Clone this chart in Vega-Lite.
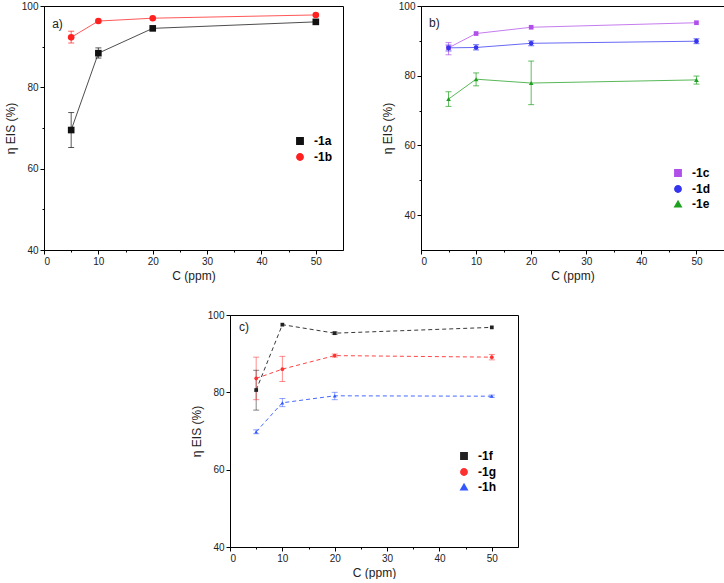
{
  "$schema": "https://vega.github.io/schema/vega-lite/v6.json",
  "background": "white",
  "padding": {"left": 3, "top": 0, "right": 0, "bottom": 0},
  "config": {
    "view": {"stroke": "black", "strokeWidth": 1},
    "font": "Liberation Sans",
    "axis": {"domainColor": "black", "tickColor": "black", "labelFont": "Liberation Sans", "titleFont": "Liberation Sans", "labelFontSize": 10, "titleFontSize": 12, "titleFontWeight": "normal", "grid": false, "labelColor": "#222", "titleColor": "#222", "labelPadding": 2, "titlePadding": 4, "labelOverlap": false},
    "legend": {"labelFont": "Liberation Sans", "labelFontSize": 12, "labelFontWeight": "bold", "labelColor": "black", "rowPadding": 2, "labelOffset": 8, "symbolSize": 40, "symbolOpacity": 1, "padding": 0}
  },
  "datasets": {
    "a": [
      {"series": "-1a", "x": 5, "y": 69.5, "lo": 65.2, "hi": 73.8},
      {"series": "-1a", "x": 10, "y": 88.4, "lo": 87.2, "hi": 89.7},
      {"series": "-1a", "x": 20, "y": 94.5},
      {"series": "-1a", "x": 50, "y": 96.1},
      {"series": "-1b", "x": 5, "y": 92.3, "lo": 90.9, "hi": 93.8},
      {"series": "-1b", "x": 10, "y": 96.3},
      {"series": "-1b", "x": 20, "y": 97.0},
      {"series": "-1b", "x": 50, "y": 97.8}
    ],
    "b": [
      {"series": "-1c", "x": 5, "y": 88.0, "lo": 86.0, "hi": 89.5},
      {"series": "-1c", "x": 10, "y": 92.1},
      {"series": "-1c", "x": 20, "y": 93.9},
      {"series": "-1c", "x": 50, "y": 95.2},
      {"series": "-1d", "x": 5, "y": 88.0, "lo": 87.1, "hi": 88.8},
      {"series": "-1d", "x": 10, "y": 88.1, "lo": 87.4, "hi": 88.9},
      {"series": "-1d", "x": 20, "y": 89.3, "lo": 88.6, "hi": 90.0},
      {"series": "-1d", "x": 50, "y": 89.9, "lo": 89.2, "hi": 90.6},
      {"series": "-1e", "x": 5, "y": 73.3, "lo": 71.2, "hi": 75.4},
      {"series": "-1e", "x": 10, "y": 79.0, "lo": 77.1, "hi": 80.8},
      {"series": "-1e", "x": 20, "y": 77.9, "lo": 71.7, "hi": 84.2},
      {"series": "-1e", "x": 50, "y": 78.8, "lo": 77.6, "hi": 79.9}
    ],
    "c": [
      {"series": "-1f", "x": 5, "y": 80.6, "lo": 75.4, "hi": 85.7},
      {"series": "-1f", "x": 10, "y": 97.5},
      {"series": "-1f", "x": 20, "y": 95.3, "lo": 95.0, "hi": 95.6},
      {"series": "-1f", "x": 50, "y": 96.8},
      {"series": "-1g", "x": 5, "y": 83.6, "lo": 78.1, "hi": 89.1},
      {"series": "-1g", "x": 10, "y": 86.0, "lo": 82.8, "hi": 89.3},
      {"series": "-1g", "x": 20, "y": 89.5, "lo": 89.1, "hi": 89.9},
      {"series": "-1g", "x": 50, "y": 89.1, "lo": 88.4, "hi": 89.8},
      {"series": "-1h", "x": 5, "y": 69.8, "lo": 69.3, "hi": 70.3},
      {"series": "-1h", "x": 10, "y": 77.3, "lo": 76.3, "hi": 78.4},
      {"series": "-1h", "x": 20, "y": 79.1, "lo": 78.1, "hi": 80.0},
      {"series": "-1h", "x": 50, "y": 79.0, "lo": 78.7, "hi": 79.3}
    ],
    "blank": []
  },
  "spacing": 27,
  "resolve": {"scale": {"color": "independent", "shape": "independent", "x": "independent", "y": "independent"}, "legend": {"color": "independent", "shape": "independent"}, "axis": {"x": "independent", "y": "independent"}},
  "vconcat": [
    {
      "spacing": 36,
      "resolve": {"scale": {"color": "independent", "shape": "independent", "x": "independent", "y": "independent"}, "legend": {"color": "independent", "shape": "independent"}, "axis": {"x": "independent", "y": "independent"}},
      "hconcat": [
        {
          "width": 299, "height": 244,
          "data": {"name": "a"},
          "encoding": {
            "x": {"field": "x", "type": "quantitative", "scale": {"domain": [0, 55], "nice": false}, "title": "C (ppm)",
              "axis": {"values": [0, 5, 10, 15, 20, 25, 30, 35, 40, 45, 50], "labelOverlap": false, "labelExpr": "datum.value % 10 === 0 ? datum.label : ''", "tickSize": {"condition": {"test": "datum.value % 10 === 0", "value": 4}, "value": 2}}},
            "color": {"field": "series", "type": "nominal", "scale": {"domain": ["-1a", "-1b"], "range": ["#111111", "#ff2020"]},
              "legend": {"orient": "none", "legendX": 250, "legendY": 129, "title": null}}
          },
          "layer": [
            {"transform": [{"filter": "isValid(datum.lo)"}], "mark": {"type": "rule", "strokeWidth": 1, "opacity": 0.7},
             "encoding": {"y": {"field": "lo", "type": "quantitative", "scale": {"domain": [40, 100], "nice": false, "zero": false}}, "y2": {"field": "hi"}}},
            {"transform": [{"filter": "isValid(datum.lo)"}], "mark": {"type": "tick", "orient": "horizontal", "size": 6, "thickness": 1, "opacity": 0.7},
             "encoding": {"y": {"field": "lo", "type": "quantitative", "scale": {"domain": [40, 100], "nice": false, "zero": false}}}},
            {"transform": [{"filter": "isValid(datum.lo)"}], "mark": {"type": "tick", "orient": "horizontal", "size": 6, "thickness": 1, "opacity": 0.7},
             "encoding": {"y": {"field": "hi", "type": "quantitative", "scale": {"domain": [40, 100], "nice": false, "zero": false}}}},
            {"mark": {"type": "line", "strokeWidth": 1, "opacity": 0.75},
             "encoding": {"y": {"field": "y", "type": "quantitative", "scale": {"domain": [40, 100], "nice": false, "zero": false}, "title": "η EIS (%)",
               "axis": {"values": [40, 50, 60, 70, 80, 90, 100], "labelOverlap": false, "labelExpr": "datum.value % 20 === 0 ? datum.label : ''", "tickSize": {"condition": {"test": "datum.value % 20 === 0", "value": 4}, "value": 2}}}}},
            {"mark": {"type": "point", "filled": true, "opacity": 1, "size": 44},
             "encoding": {"y": {"field": "y", "type": "quantitative", "scale": {"domain": [40, 100], "nice": false, "zero": false}},
               "shape": {"field": "series", "type": "nominal", "scale": {"domain": ["-1a", "-1b"], "range": ["square", "circle"]}, "legend": null}}},
            {"transform": [{"filter": "datum.series === '-1a' && datum.x === 5"}], "mark": {"type": "text", "align": "left", "baseline": "middle", "fontSize": 12, "font": "Liberation Sans", "color": "#222222"},
             "encoding": {"x": {"datum": 1.5, "type": "quantitative"}, "y": {"datum": 95.6, "type": "quantitative"}, "text": {"value": "a)"}, "color": {"value": "#222222"}}}
          ]
        },
        {
          "width": 303, "height": 244,
          "data": {"name": "b"},
          "encoding": {
            "x": {"field": "x", "type": "quantitative", "scale": {"domain": [0, 55], "nice": false}, "title": "C (ppm)",
              "axis": {"values": [0, 5, 10, 15, 20, 25, 30, 35, 40, 45, 50], "labelOverlap": false, "labelExpr": "datum.value % 10 === 0 ? datum.label : ''", "tickSize": {"condition": {"test": "datum.value % 10 === 0", "value": 4}, "value": 2}}},
            "color": {"field": "series", "type": "nominal", "scale": {"domain": ["-1c", "-1d", "-1e"], "range": ["#b050e8", "#3535f0", "#20a020"]},
              "legend": {"orient": "none", "legendX": 251, "legendY": 161, "title": null}}
          },
          "layer": [
            {"transform": [{"filter": "isValid(datum.lo)"}], "mark": {"type": "rule", "strokeWidth": 1, "opacity": 0.7},
             "encoding": {"y": {"field": "lo", "type": "quantitative", "scale": {"domain": [30, 100], "nice": false, "zero": false}}, "y2": {"field": "hi"}}},
            {"transform": [{"filter": "isValid(datum.lo)"}], "mark": {"type": "tick", "orient": "horizontal", "size": 6, "thickness": 1, "opacity": 0.7},
             "encoding": {"y": {"field": "lo", "type": "quantitative", "scale": {"domain": [30, 100], "nice": false, "zero": false}}}},
            {"transform": [{"filter": "isValid(datum.lo)"}], "mark": {"type": "tick", "orient": "horizontal", "size": 6, "thickness": 1, "opacity": 0.7},
             "encoding": {"y": {"field": "hi", "type": "quantitative", "scale": {"domain": [30, 100], "nice": false, "zero": false}}}},
            {"mark": {"type": "line", "strokeWidth": 1, "opacity": 0.75},
             "encoding": {"y": {"field": "y", "type": "quantitative", "scale": {"domain": [30, 100], "nice": false, "zero": false}, "title": "η EIS (%)",
               "axis": {"values": [40, 50, 60, 70, 80, 90, 100], "labelOverlap": false, "labelExpr": "datum.value % 20 === 0 ? datum.label : ''", "tickSize": {"condition": {"test": "datum.value % 20 === 0", "value": 4}, "value": 2}}}}},
            {"mark": {"type": "point", "filled": true, "opacity": 1, "size": 22},
             "encoding": {"y": {"field": "y", "type": "quantitative", "scale": {"domain": [30, 100], "nice": false, "zero": false}},
               "shape": {"field": "series", "type": "nominal", "scale": {"domain": ["-1c", "-1d", "-1e"], "range": ["square", "circle", "triangle-up"]}, "legend": null}}},
            {"transform": [{"filter": "datum.series === '-1c' && datum.x === 5"}], "mark": {"type": "text", "align": "left", "baseline": "middle", "fontSize": 12, "font": "Liberation Sans", "color": "#222222"},
             "encoding": {"x": {"datum": 1.45, "type": "quantitative"}, "y": {"datum": 95.1, "type": "quantitative"}, "text": {"value": "b)"}, "color": {"value": "#222222"}}}
          ]
        }
      ]
    },
    {
      "spacing": 0,
      "resolve": {"scale": {"color": "independent", "shape": "independent", "x": "independent", "y": "independent"}, "legend": {"color": "independent", "shape": "independent"}, "axis": {"x": "independent", "y": "independent"}},
      "hconcat": [
        {"width": 145, "height": 10, "data": {"name": "blank"}, "mark": {"type": "point", "opacity": 0}, "view": {"stroke": null}},
        {
          "width": 288, "height": 232,
          "data": {"name": "c"},
          "encoding": {
            "x": {"field": "x", "type": "quantitative", "scale": {"domain": [0, 55], "nice": false}, "title": "C (ppm)",
              "axis": {"values": [0, 5, 10, 15, 20, 25, 30, 35, 40, 45, 50], "labelOverlap": false, "labelExpr": "datum.value % 10 === 0 ? datum.label : ''", "tickSize": {"condition": {"test": "datum.value % 10 === 0", "value": 4}, "value": 2}}},
            "color": {"field": "series", "type": "nominal", "scale": {"domain": ["-1f", "-1g", "-1h"], "range": ["#222222", "#ff3030", "#3358ff"]},
              "legend": {"orient": "none", "legendX": 228, "legendY": 135, "title": null}}
          },
          "layer": [
            {"transform": [{"filter": "isValid(datum.lo)"}], "mark": {"type": "rule", "strokeWidth": 1, "opacity": 0.55},
             "encoding": {"y": {"field": "lo", "type": "quantitative", "scale": {"domain": [40, 100], "nice": false, "zero": false}}, "y2": {"field": "hi"}}},
            {"transform": [{"filter": "isValid(datum.lo)"}], "mark": {"type": "tick", "orient": "horizontal", "size": 6, "thickness": 1, "opacity": 0.55},
             "encoding": {"y": {"field": "lo", "type": "quantitative", "scale": {"domain": [40, 100], "nice": false, "zero": false}}}},
            {"transform": [{"filter": "isValid(datum.lo)"}], "mark": {"type": "tick", "orient": "horizontal", "size": 6, "thickness": 1, "opacity": 0.55},
             "encoding": {"y": {"field": "hi", "type": "quantitative", "scale": {"domain": [40, 100], "nice": false, "zero": false}}}},
            {"mark": {"type": "line", "strokeWidth": 1, "strokeDash": [4, 3], "opacity": 0.9},
             "encoding": {"y": {"field": "y", "type": "quantitative", "scale": {"domain": [40, 100], "nice": false, "zero": false}, "title": "η EIS (%)",
               "axis": {"values": [40, 50, 60, 70, 80, 90, 100], "labelOverlap": false, "labelExpr": "datum.value % 20 === 0 ? datum.label : ''", "tickSize": {"condition": {"test": "datum.value % 20 === 0", "value": 4}, "value": 2}}}}},
            {"mark": {"type": "point", "filled": true, "opacity": 1, "size": 14},
             "encoding": {"y": {"field": "y", "type": "quantitative", "scale": {"domain": [40, 100], "nice": false, "zero": false}},
               "shape": {"field": "series", "type": "nominal", "scale": {"domain": ["-1f", "-1g", "-1h"], "range": ["square", "circle", "triangle-up"]}, "legend": null}}},
            {"transform": [{"filter": "datum.series === '-1f' && datum.x === 5"}], "mark": {"type": "text", "align": "left", "baseline": "middle", "fontSize": 12, "font": "Liberation Sans", "color": "#222222"},
             "encoding": {"x": {"datum": 1.7, "type": "quantitative"}, "y": {"datum": 96.9, "type": "quantitative"}, "text": {"value": "c)"}, "color": {"value": "#222222"}}}
          ]
        }
      ]
    }
  ]
}
